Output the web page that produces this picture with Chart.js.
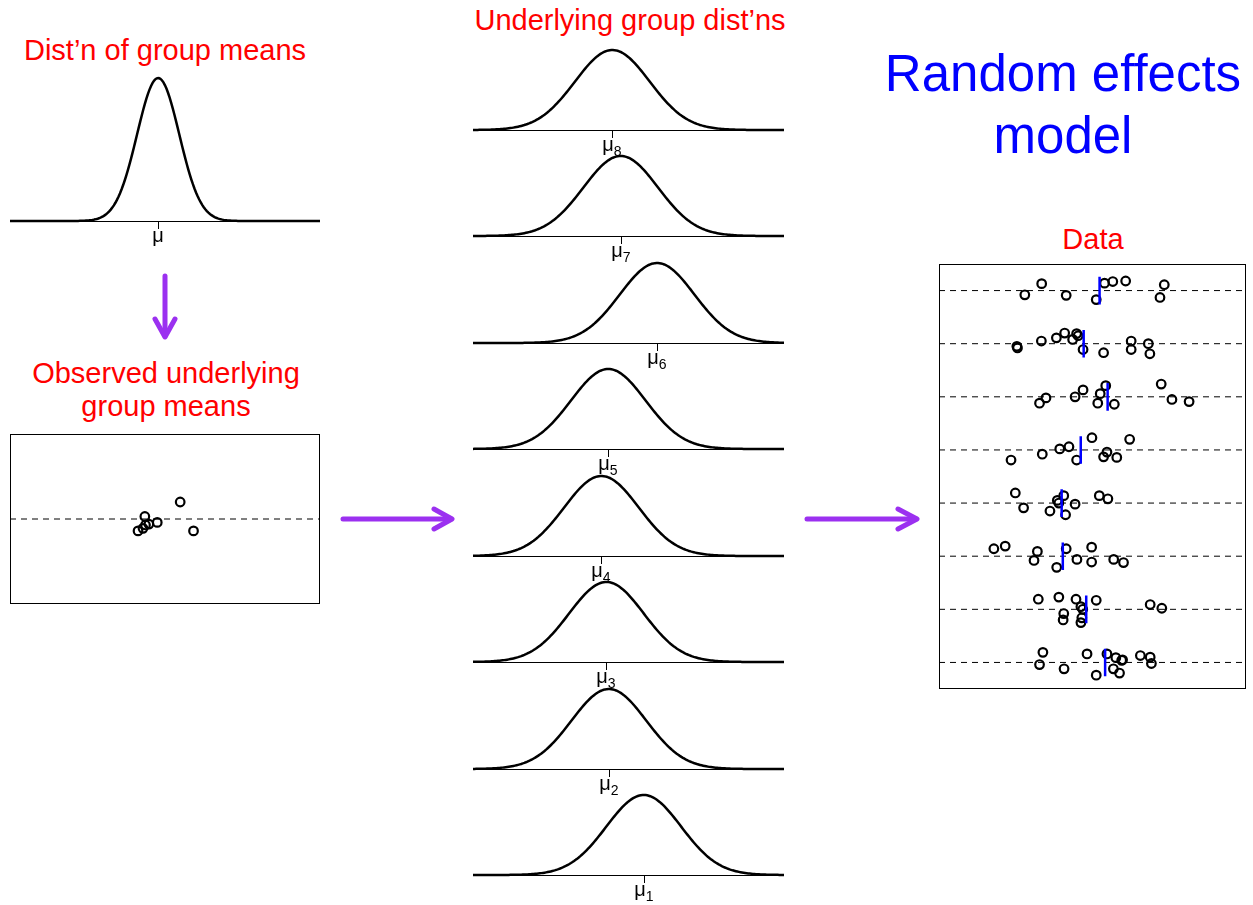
<!DOCTYPE html>
<html>
<head>
<meta charset="utf-8">
<script src="https://cdn.jsdelivr.net/npm/chart.js@4"></script>
<style>
  body { margin: 0; background: #fff; width: 1253px; height: 905px; overflow: hidden; position: relative;
         font-family: "Liberation Sans", Arial, sans-serif; }
  canvas { position: absolute; }
  .t { position: absolute; width: 420px; text-align: center; white-space: nowrap; }
  .red { color: #ff0000; font-size: 29px; line-height: 29px; }
  .blue { color: #0000ff; font-size: 51px; line-height: 51px; }
</style>
</head>
<body>

<!-- titles -->
<div class="t red" style="left:-45px; top:36px;">Dist’n of group means</div>
<div class="t red" style="left:420px; top:6px;">Underlying group dist’ns</div>
<div class="t red" style="left:-44px; top:359px;">Observed underlying</div>
<div class="t red" style="left:-44px; top:392px;">group means</div>
<div class="t red" style="left:883px; top:225px;">Data</div>
<div class="t blue" style="left:853px; top:48px;">Random effects</div>
<div class="t blue" style="left:853px; top:110px;">model</div>

<!-- purple arrows -->
<svg style="position:absolute;left:0;top:0" width="1253" height="905">
  <g stroke="#9b30f0" stroke-width="5" stroke-linecap="round" stroke-linejoin="round" fill="none">
    <line x1="165" y1="276" x2="165" y2="336"/>
    <polyline points="155,319 165,337 175,319"/>
    <line x1="343" y1="519" x2="451" y2="519"/>
    <polyline points="434,509 452,519 434,529"/>
    <line x1="807" y1="519" x2="916" y2="519"/>
    <polyline points="898,509 917,519 898,529"/>
  </g>
</svg>

<canvas id="top" width="310" height="200" style="left:10px; top:60px;"></canvas>
<canvas id="obs" width="330" height="190" style="left:0px; top:424px;"></canvas>
<canvas id="data" width="323" height="445" style="left:929px; top:254px;"></canvas>

<script>
// ---- values ----
const groups = [1, 2, 3, 4, 5, 6, 7, 8];
const grandMu = -0.22;
const grandSd = 0.68;
const groupMu = [0.49, -0.63, -0.71, -0.87, -0.65, 0.92, -0.25, -0.52];
const groupSd = 1.2;
// vertical jitter of the observed group means
const obsJitter = [0.20, -0.07, -0.11, -0.14, 0.03, -0.14, -0.04, -0.06];

// samples per group (x) and their vertical jitter
const sampleX = [
  [-1.61, -1.72, -0.92, -0.17, 0.13, 0.48, 0.69, 0.77, 0.89, 0.96, 0.99, 1.57, 1.89, 1.93],
  [-1.76, -1.09, -0.93, -0.95, -0.53, -0.37, -0.31, -0.34, -0.37, 0.13, 1.89, 2.27],
  [-3.21, -2.84, -1.79, -1.90, -1.16, -0.85, -0.50, -0.02, -0.02, 0.70, 1.02],
  [-2.51, -2.24, -1.38, -1.14, -1.09, -0.93, -0.87, -0.56, 0.23, 0.51],
  [-2.65, -1.63, -1.06, -0.76, -0.51, -0.01, 0.37, 0.48, 0.80, 1.22],
  [-1.72, -1.51, -0.56, -0.30, 0.26, 0.18, 0.44, 0.72, 2.25, 2.60, 3.16],
  [-2.46, -2.44, -1.66, -1.17, -0.90, -0.64, -0.51, -0.46, -0.30, 0.37, 1.27, 1.27, 1.83, 1.88],
  [-2.20, -1.65, -0.85, 0.13, 0.40, 0.67, 1.09, 2.21, 2.35]
];
const sampleJitter = [
  [0.19, -0.04, -0.12, 0.16, -0.24, 0.16, -0.12, 0.09, -0.20, 0.04, 0.05, 0.13, 0.10, -0.02],
  [0.19, 0.23, -0.08, -0.20, 0.19, 0.05, 0.00, -0.16, -0.25, 0.17, 0.09, 0.02],
  [0.14, 0.19, 0.09, -0.08, -0.21, 0.14, -0.06, 0.17, -0.11, -0.06, -0.12],
  [0.19, -0.09, -0.15, 0.05, 0.00, 0.14, -0.22, -0.02, 0.14, 0.08],
  [-0.19, -0.08, 0.02, 0.06, -0.19, 0.23, -0.13, -0.04, -0.14, 0.20],
  [-0.12, -0.02, 0.00, 0.13, 0.06, -0.12, 0.21, -0.14, 0.24, -0.05, -0.09],
  [-0.05, -0.08, 0.05, 0.11, 0.20, 0.08, 0.19, 0.15, -0.11, -0.17, 0.05, -0.11, 0.00, -0.19],
  [-0.08, 0.13, -0.09, -0.17, 0.14, 0.17, 0.18, -0.13, 0.11]
];

const FONT = '"Liberation Sans", Arial, sans-serif';

function dnorm(x, m, s) {
  return Math.exp(-0.5 * ((x - m) / s) ** 2) / (s * Math.sqrt(2 * Math.PI));
}
const xGrid = [];
for (let i = 0; i <= 200; i++) xGrid.push(-5 + i * 0.05);

// baseline, tick at mu and the mu label
const densityAxis = {
  id: 'densityAxis',
  beforeDatasetsDraw(chart, args, opts) {
    const { ctx, chartArea: a, scales: { x, y } } = chart;
    const y0 = Math.round(y.getPixelForValue(0));
    const xm = Math.round(x.getPixelForValue(opts.mu));
    ctx.save();
    ctx.strokeStyle = '#000';
    ctx.lineWidth = 1;
    ctx.beginPath();
    ctx.moveTo(a.left, y0 + 0.5); ctx.lineTo(a.right, y0 + 0.5);
    ctx.moveTo(xm + 0.5, y0); ctx.lineTo(xm + 0.5, y0 + 8);
    ctx.stroke();
    ctx.fillStyle = '#000';
    ctx.textAlign = 'left';
    ctx.textBaseline = 'alphabetic';
    ctx.font = '20px ' + FONT;
    const w1 = ctx.measureText('μ').width;
    let w2 = 0;
    if (opts.sub) { ctx.font = '14px ' + FONT; w2 = ctx.measureText(opts.sub).width; }
    const x0 = xm - (w1 + w2) / 2;
    ctx.font = '20px ' + FONT;
    ctx.fillText('μ', x0, y0 + 21);
    if (opts.sub) { ctx.font = '14px ' + FONT; ctx.fillText(opts.sub, x0 + w1, y0 + 26); }
    ctx.restore();
  }
};

const frame = {
  id: 'frame',
  afterDraw(chart) {
    const { ctx, chartArea: a } = chart;
    ctx.save();
    ctx.strokeStyle = '#000';
    ctx.lineWidth = 1;
    ctx.strokeRect(Math.round(a.left) + 0.5, Math.round(a.top) + 0.5,
                   Math.round(a.right - a.left) - 1, Math.round(a.bottom - a.top) - 1);
    ctx.restore();
  }
};

function curveChart(canvas, mu, sd, sub, pad) {
  return new Chart(canvas, {
    type: 'line',
    data: {
      datasets: [{
        data: xGrid.map(v => ({ x: v, y: dnorm(v, mu, sd) })),
        borderColor: '#000', borderWidth: 2.5, pointRadius: 0, tension: 0, clip: false
      }]
    },
    options: {
      responsive: false, animation: false, events: [],
      layout: { padding: pad },
      scales: {
        x: { type: 'linear', min: -5, max: 5, display: false },
        y: { min: 0, max: dnorm(mu, mu, sd), display: false }
      },
      plugins: { legend: { display: false }, tooltip: { enabled: false }, densityAxis: { mu, sub } }
    },
    plugins: [densityAxis]
  });
}

// top-left: distribution of group means
curveChart(document.getElementById('top'), grandMu, grandSd, '', { top: 18, bottom: 39, left: 0, right: 0 });

// middle: the eight group distributions, group 8 on top
groups.forEach((g, i) => {
  const c = document.createElement('canvas');
  c.width = 311; c.height = 125;
  const base = 130 + (8 - g) * 106.47;
  c.style.left = '473px';
  c.style.top = Math.round(base - 90) + 'px';
  document.body.appendChild(c);
  curveChart(c, groupMu[i], groupSd, String(g), { top: 10, bottom: 35, left: 0, right: 0 });
});

const circle = {
  pointStyle: 'circle', pointRadius: 4.3, pointBorderWidth: 2.2,
  pointBackgroundColor: 'rgba(0,0,0,0)', pointBorderColor: '#000', showLine: false
};
const dashed = { borderColor: '#000', borderWidth: 1, borderDash: [6, 5], pointRadius: 0, showLine: true };

// observed underlying group means
new Chart(document.getElementById('obs'), {
  type: 'scatter',
  data: {
    datasets: [
      Object.assign({ data: groupMu.map((m, i) => ({ x: m, y: obsJitter[i] })), order: 0 }, circle),
      Object.assign({ data: [{ x: -5, y: 0 }, { x: 5, y: 0 }], order: 1 }, dashed)
    ]
  },
  options: {
    responsive: false, animation: false, events: [],
    layout: { padding: 10 },
    scales: {
      x: { type: 'linear', min: -5, max: 5, display: false },
      y: { min: -1, max: 1, display: false }
    },
    plugins: { legend: { display: false }, tooltip: { enabled: false } }
  },
  plugins: [frame]
});

// data panel
const dataSets = [];
groups.forEach((g, i) => {
  const xs = sampleX[i];
  const mean = xs.reduce((s, v) => s + v, 0) / xs.length;
  dataSets.push(Object.assign({ data: [{ x: -5, y: g }, { x: 5, y: g }], order: 2 }, dashed));
  dataSets.push(Object.assign({ data: xs.map((v, k) => ({ x: v, y: g + sampleJitter[i][k] })), order: 1 }, circle));
  dataSets.push({
    data: [{ x: mean, y: g - 0.26 }, { x: mean, y: g + 0.26 }],
    borderColor: '#0000ff', borderWidth: 2.5, pointRadius: 0, showLine: true, order: 0
  });
});

new Chart(document.getElementById('data'), {
  type: 'scatter',
  data: { datasets: dataSets },
  options: {
    responsive: false, animation: false, events: [],
    layout: { padding: { left: 10, right: 3, top: 10, bottom: 10 } },
    scales: {
      x: { type: 'linear', min: -5, max: 5, display: false },
      y: { min: 0.5, max: 8.5, display: false }
    },
    plugins: { legend: { display: false }, tooltip: { enabled: false } }
  },
  plugins: [frame]
});
</script>
</body>
</html>
